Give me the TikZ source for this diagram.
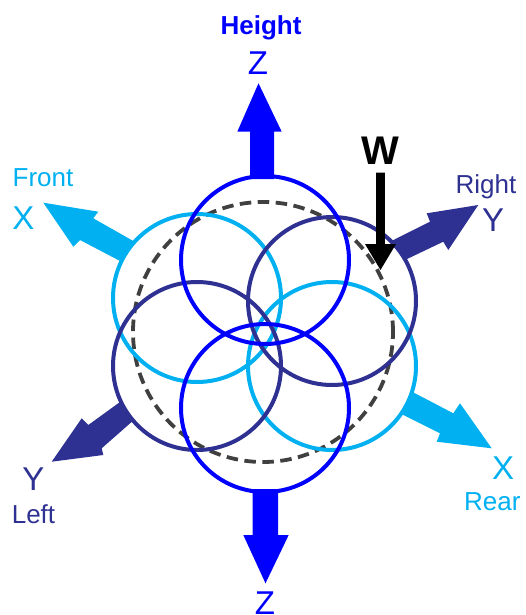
\documentclass[tikz,border=0pt]{standalone}
\usepackage{fontspec}
\setmainfont{Liberation Sans}
\definecolor{zblue}{RGB}{0,0,255}
\definecolor{lblue}{RGB}{0,176,240}
\definecolor{navy}{RGB}{46,49,146}
\definecolor{dgray}{RGB}{64,64,64}
\tikzset{
  ring/.style={line width=4pt},
  word/.style={inner sep=0pt, anchor=base, font=\fontsize{26}{30}\selectfont},
  axis/.style={inner sep=0pt, anchor=base, font=\fontsize{33}{36}\selectfont},
}
\begin{document}
\begin{tikzpicture}[x=1pt,y=-1pt]
\useasboundingbox (0,0) rectangle (525,615);
% circle centres
\coordinate (ctop) at (265,260);
\coordinate (cbot) at (265,408);
\coordinate (cfl) at (197,298);
\coordinate (crr) at (332,366);
\coordinate (cr) at (332,301);
\coordinate (cl) at (197,366);
\coordinate (cdash) at (263,332);
% arrow tips
\coordinate (zuH) at (258.5,83.3);
\coordinate (zdH) at (265.5,583.3);
\coordinate (xfH) at (43.3,202.7);
\coordinate (yrH) at (478.3,205);
\coordinate (ylH) at (51.7,461.7);
\coordinate (xrH) at (491.7,448.3);
\coordinate (wH) at (380.5,270);
% block arrows
\fill[zblue] (250,179) -- (250,131.7) -- (237.3,131.7) -- (zuH) -- (281.7,131.7) -- (274,131.7) -- (274,179) -- cycle;
\fill[zblue] (252.5,489) -- (252.5,535) -- (243.3,535) -- (zdH) -- (288.7,535) -- (278,535) -- (278,489) -- cycle;
\fill[lblue] (135,242) -- (93.3,218.3) -- (98.3,211.7) -- (xfH) -- (73.3,246.7) -- (80,240) -- (121,261.5) -- cycle;
\fill[navy] (390.5,241.5) -- (430,221.7) -- (426.7,213.3) -- (yrH) -- (448.3,250) -- (443.3,241.7) -- (405,260) -- cycle;
\fill[navy] (121,401.3) -- (88.3,425) -- (81.7,418.3) -- (ylH) -- (103.3,455) -- (101.7,448.3) -- (133.3,420.5) -- cycle;
\fill[lblue] (412,391.7) -- (453.3,413.3) -- (460,403.3) -- (xrH) -- (436.7,441.7) -- (440,433.3) -- (401,413.8) -- cycle;
% circles
\draw[dgray, line width=3.8pt, dash pattern=on 11.5pt off 6.5pt] (cdash) circle[radius=130pt];
\draw[ring, lblue] (cfl) circle[radius=84pt];
\draw[ring, lblue] (crr) circle[radius=84pt];
\draw[ring, navy] (cr) circle[radius=84pt];
\draw[ring, navy] (cl) circle[radius=84pt];
\draw[ring, zblue] (ctop) circle[radius=84pt];
\draw[ring, zblue] (cbot) circle[radius=84pt];
% weight arrow
\fill[black] (376.2,172.5) -- (376.2,244) -- (365,244) -- (wH) -- (396,244) -- (384.8,244) -- (384.8,172.5) -- cycle;
% labels
\node[word, zblue, font=\fontsize{26}{30}\selectfont\bfseries] (height) at (261,34.5) {Height};
\node[axis, zblue] (ztop) at (258,74.5) {Z};
\node[axis, zblue] (zbot) at (265,614) {Z};
\node[word, lblue] (front) at (43,186) {Front};
\node[axis, lblue] (xfront) at (23.4,229.4) {X};
\node[word, navy] (right) at (486,193) {Right};
\node[axis, navy] (yright) at (493,231.4) {Y};
\node[axis, navy] (yleft) at (33.5,490) {Y};
\node[word, navy] (left) at (33.5,523.5) {Left};
\node[axis, lblue] (xrear) at (503,479) {X};
\node[word, lblue, anchor=base west] (rear) at (464,510) {Rear};
\node[inner sep=0pt, anchor=base, font=\fontsize{40}{44}\selectfont\bfseries] (w) at (380.7,164.7) {W};
\end{tikzpicture}
\end{document}
